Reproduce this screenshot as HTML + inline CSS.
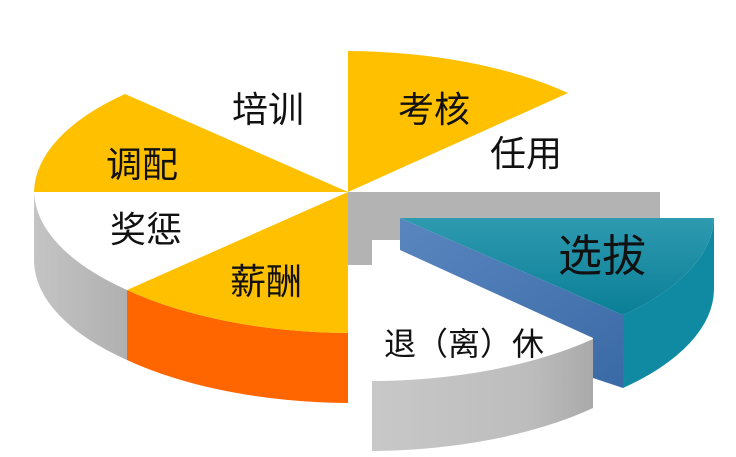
<!DOCTYPE html>
<html><head><meta charset="utf-8"><style>
html,body{margin:0;padding:0;background:#fff;width:736px;height:457px;overflow:hidden}
svg text{font-family:"Liberation Sans","Noto Sans CJK SC",sans-serif;fill:#111}
</style></head><body>
<svg width="736" height="457" viewBox="0 0 736 457" xmlns="http://www.w3.org/2000/svg">
<defs>
<linearGradient id="g1" x1="0" x2="1" y1="0" y2="0"><stop offset="0" stop-color="#c4c4c4"/><stop offset="1" stop-color="#b0b0b0"/></linearGradient>
<linearGradient id="g2" x1="0" x2="1" y1="0" y2="0"><stop offset="0" stop-color="#c8c8c8"/><stop offset="0.7" stop-color="#bdbdbd"/><stop offset="1" stop-color="#aaaaaa"/></linearGradient>
<linearGradient id="tl" x1="0" x2="0" y1="0" y2="1"><stop offset="0" stop-color="#2e9ab0"/><stop offset="1" stop-color="#0a7f96"/></linearGradient>
<linearGradient id="bl" x1="0" x2="1" y1="0" y2="1"><stop offset="0" stop-color="#5a86bf"/><stop offset="1" stop-color="#3a6aa6"/></linearGradient>
</defs>
<path d="M34,192 A314,141 0 0 0 127,290 L127,360 A314,141 0 0 1 34,262 Z" fill="url(#g1)"/>
<path d="M127,290 A314,141 0 0 0 348,333 L348,403 A314,141 0 0 1 127,360 Z" fill="#ff6600"/>
<path d="M348,192 L660,192 L660,218 L400,218 L400,240 L372,240 L372,265 L348,265 Z" fill="#b3b3b3"/>
<path d="M348,192 L348,51 A314,141 0 0 1 568,93 Z" fill="#ffc000"/>
<path d="M348,192 L125,94 A314,141 0 0 0 34,192 Z" fill="#ffc000"/>
<path d="M348,192 L127,290 A314,141 0 0 0 348,333 Z" fill="#ffc000"/>
<path d="M593,339 A314,141 0 0 1 372,381 L372,451 A314,141 0 0 0 593,408 Z" fill="url(#g2)"/>
<path d="M372,240 L593,338 A314,141 0 0 1 372,381 Z" fill="#fff"/>
<path d="M400,218 L623,315 L623,388 L593,378 L593,338 L400,250 Z" fill="url(#bl)"/>
<path d="M714,218 A314,141 0 0 1 623,315 L623,388 A314,141 0 0 0 714,290 Z" fill="#0f8aa2"/>
<path d="M400,218 L714,218 A314,141 0 0 1 623,315 Z" fill="url(#tl)"/>
<text x="268" y="122" font-size="36" text-anchor="middle">培训</text>
<text x="434" y="122" font-size="36" text-anchor="middle">考核</text>
<text x="142" y="177" font-size="36" text-anchor="middle">调配</text>
<text x="526" y="166" font-size="36" text-anchor="middle">任用</text>
<text x="146" y="242" font-size="36" text-anchor="middle">奖惩</text>
<text x="266" y="294" font-size="36" text-anchor="middle">薪酬</text>
<text x="602" y="271" font-size="44" text-anchor="middle">选拔</text>
<text x="464" y="355" font-size="32" text-anchor="middle">退（离）休</text>
</svg>
</body></html>
